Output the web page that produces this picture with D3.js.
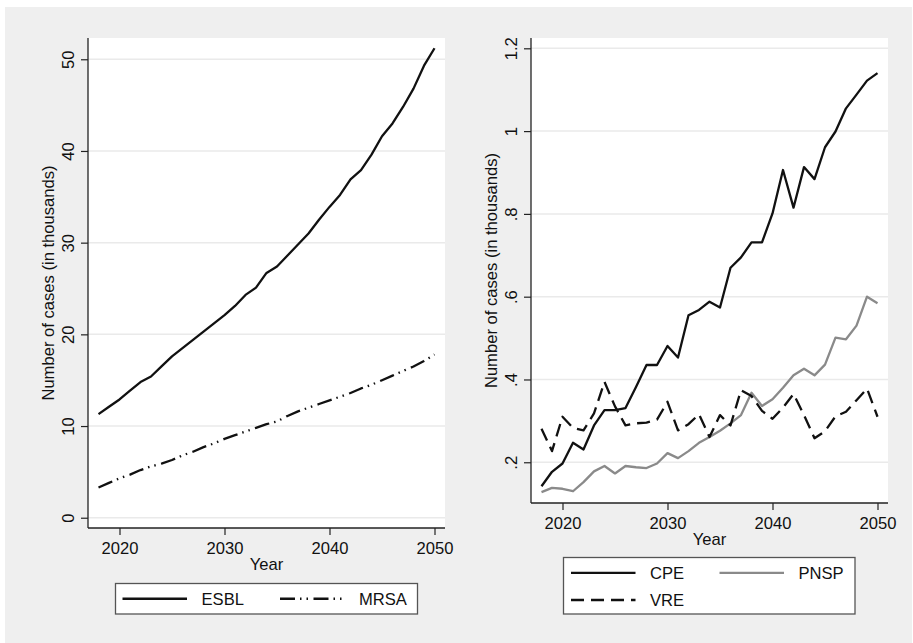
<!DOCTYPE html>
<html>
<head>
<meta charset="utf-8">
<script src="https://cdn.jsdelivr.net/npm/d3@7"></script>
<style>
body { margin: 0; background: #fff; }
text { font-family: "Liberation Sans", Arial, sans-serif; fill: #111; }
</style>
</head>
<body>
<div id="chart"></div>
<script>
var width = 913,
    height = 643;

// yearly projections, 2018-2050
var years = [2018, 2019, 2020, 2021, 2022, 2023, 2024, 2025, 2026, 2027, 2028,
  2029, 2030, 2031, 2032, 2033, 2034, 2035, 2036, 2037, 2038, 2039, 2040,
  2041, 2042, 2043, 2044, 2045, 2046, 2047, 2048, 2049, 2050];

var esbl = [11.3, 12.1, 12.9, 13.85, 14.8, 15.4, 16.5, 17.6, 18.5, 19.4, 20.3,
  21.2, 22.1, 23.1, 24.3, 25.1, 26.7, 27.4, 28.6, 29.8, 31.0, 32.5, 33.9,
  35.2, 36.9, 37.9, 39.6, 41.6, 43.0, 44.8, 46.8, 49.3, 51.2];
var mrsa = [3.3, 3.8, 4.3, 4.7, 5.2, 5.6, 5.9, 6.3, 6.8, 7.2, 7.7,
  8.1, 8.6, 9.0, 9.4, 9.8, 10.2, 10.5, 11.1, 11.6, 12.0, 12.4, 12.8,
  13.2, 13.6, 14.1, 14.5, 15.0, 15.5, 16.0, 16.5, 17.1, 17.8];

var cpe = [0.142, 0.177, 0.197, 0.247, 0.231, 0.289, 0.326, 0.326, 0.331, 0.382, 0.435,
  0.435, 0.481, 0.453, 0.555, 0.568, 0.588, 0.574, 0.670, 0.695, 0.731, 0.731, 0.801,
  0.906, 0.815, 0.913, 0.884, 0.961, 0.999, 1.055, 1.088, 1.122, 1.140];
var pnsp = [0.128, 0.138, 0.136, 0.130, 0.152, 0.178, 0.191, 0.173, 0.191, 0.188, 0.186,
  0.197, 0.222, 0.210, 0.227, 0.247, 0.261, 0.276, 0.294, 0.314, 0.368, 0.336, 0.352,
  0.380, 0.410, 0.426, 0.410, 0.436, 0.501, 0.497, 0.530, 0.600, 0.584];
var vre = [0.281, 0.227, 0.310, 0.283, 0.277, 0.318, 0.394, 0.335, 0.289, 0.294, 0.296,
  0.303, 0.346, 0.277, 0.292, 0.316, 0.261, 0.314, 0.289, 0.374, 0.360, 0.324, 0.305,
  0.332, 0.365, 0.314, 0.258, 0.275, 0.311, 0.322, 0.350, 0.378, 0.310];

var yearTicks = [2020, 2030, 2040, 2050];
var leftTicks = [0, 10, 20, 30, 40, 50];
var leftTickLabels = ["0", "10", "20", "30", "40", "50"];
var rightTicks = [0.2, 0.4, 0.6, 0.8, 1, 1.2];
var rightTickLabels = [".2", ".4", ".6", ".8", "1", "1.2"];

var fontSize = 16.6;
var ink = "#111";

var svg = d3.select('#chart').append('svg')
  .attr('width', width)
  .attr('height', height);

// grey graph region behind both panels
svg.append('rect')
  .attr('x', 5).attr('y', 7)
  .attr('width', 907).attr('height', 636)
  .attr('fill', '#efefef');

var panels = [
  {
    x0: 88, x1: 445, y0: 38, y1: 528,
    yDomain: [-1.12, 52.32], ticks: leftTicks, tickLabels: leftTickLabels,
    series: [
      {name: 'ESBL', values: esbl, color: ink, dash: null},
      {name: 'MRSA', values: mrsa, color: ink, dash: '15,5,1.5,5,1.5,5.5'}
    ],
    legend: {x: 115.5, y: 583.5, w: 302, h: 30.5, rows: 1,
      cols: [{sx: 7, tx: 86}, {sx: 164.5, tx: 243.5}]}
  },
  {
    x0: 531, x1: 888, y0: 38, y1: 503,
    yDomain: [0.1016, 1.2249], ticks: rightTicks, tickLabels: rightTickLabels,
    series: [
      {name: 'CPE', values: cpe, color: ink, dash: null},
      {name: 'PNSP', values: pnsp, color: '#8a8a8a', dash: null},
      {name: 'VRE', values: vre, color: ink, dash: '13,7'}
    ],
    legend: {x: 563.5, y: 557.5, w: 291.5, h: 56.5, rows: 2,
      cols: [{sx: 7.5, tx: 86.5}, {sx: 156, tx: 235}]}
  }
];

panels.forEach(function(p) {
  var x = d3.scaleLinear().domain([2017, 2051]).range([p.x0, p.x1]);
  var y = d3.scaleLinear().domain(p.yDomain).range([p.y1, p.y0]);

  var g = svg.append('g');

  g.append('rect')
    .attr('x', p.x0).attr('y', p.y0)
    .attr('width', p.x1 - p.x0).attr('height', p.y1 - p.y0)
    .attr('fill', '#fff');

  // horizontal grid
  g.selectAll('.grid').data(p.ticks).enter().append('line')
    .attr('x1', p.x0).attr('x2', p.x1)
    .attr('y1', function(d) { return y(d); })
    .attr('y2', function(d) { return y(d); })
    .attr('stroke', '#eaeaea')
    .attr('stroke-width', 1.5);

  // y axis
  var yAxis = g.append('g')
    .attr('transform', 'translate(' + p.x0 + ',0)')
    .call(d3.axisLeft(y)
      .tickValues(p.ticks)
      .tickFormat(function(d, i) { return p.tickLabels[i]; })
      .tickSize(7)
      .tickSizeOuter(0));
  yAxis.select('.domain').attr('stroke', '#222').attr('stroke-width', 1.3)
    .attr('d', 'M0,' + p.y0 + 'V' + p.y1);
  yAxis.selectAll('.tick line').attr('stroke', '#222').attr('stroke-width', 1.2);
  yAxis.selectAll('.tick text')
    .attr('transform', 'rotate(-90)')
    .attr('x', 0).attr('y', -14.5).attr('dy', 0)
    .style('text-anchor', 'middle')
    .style('font-size', fontSize + 'px')
    .style('font-family', '"Liberation Sans", Arial, sans-serif')
    .attr('fill', ink);

  // x axis
  var xAxis = g.append('g')
    .attr('transform', 'translate(0,' + p.y1 + ')')
    .call(d3.axisBottom(x)
      .tickValues(yearTicks)
      .tickFormat(d3.format('d'))
      .tickSize(7)
      .tickSizeOuter(0));
  xAxis.select('.domain').attr('stroke', '#222').attr('stroke-width', 1.3)
    .attr('d', 'M' + p.x0 + ',0H' + p.x1);
  xAxis.selectAll('.tick line').attr('stroke', '#222').attr('stroke-width', 1.2);
  xAxis.selectAll('.tick text')
    .attr('y', 26).attr('dy', 0)
    .style('font-size', fontSize + 'px')
    .style('font-family', '"Liberation Sans", Arial, sans-serif')
    .attr('fill', ink);

  // axis titles
  g.append('text')
    .attr('x', (p.x0 + p.x1) / 2)
    .attr('y', p.y1 + 42)
    .attr('text-anchor', 'middle')
    .style('font-size', fontSize + 'px')
    .text('Year');

  g.append('text')
    .attr('transform', 'translate(' + (p.x0 - 34) + ',' + ((p.y0 + p.y1) / 2) + ') rotate(-90)')
    .attr('text-anchor', 'middle')
    .style('font-size', fontSize + 'px')
    .text('Number of cases (in thousands)');

  // series
  var line = d3.line()
    .x(function(d, i) { return x(years[i]); })
    .y(function(d) { return y(d); });

  p.series.forEach(function(s) {
    g.append('path')
      .datum(s.values)
      .attr('d', line)
      .attr('fill', 'none')
      .attr('stroke', s.color)
      .attr('stroke-width', 2.3)
      .attr('stroke-linejoin', 'round')
      .attr('stroke-dasharray', s.dash);
  });

  // legend
  var L = p.legend;
  var lg = g.append('g').attr('transform', 'translate(' + L.x + ',' + L.y + ')');
  lg.append('rect')
    .attr('width', L.w).attr('height', L.h)
    .attr('fill', '#fff')
    .attr('stroke', '#555')
    .attr('stroke-width', 1.3);

  var rowH = L.rows === 1 ? [L.h / 2] : [15.3, 42.5];
  p.series.forEach(function(s, i) {
    var col = L.cols[i % 2];
    var cy = rowH[Math.floor(i / 2)];
    lg.append('line')
      .attr('x1', col.sx).attr('x2', col.sx + 64.5)
      .attr('y1', cy).attr('y2', cy)
      .attr('stroke', s.color)
      .attr('stroke-width', 2.3)
      .attr('stroke-dasharray', s.dash);
    lg.append('text')
      .attr('x', col.tx)
      .attr('y', cy + 6)
      .style('font-size', fontSize + 'px')
      .text(s.name);
  });
});
</script>
</body>
</html>
